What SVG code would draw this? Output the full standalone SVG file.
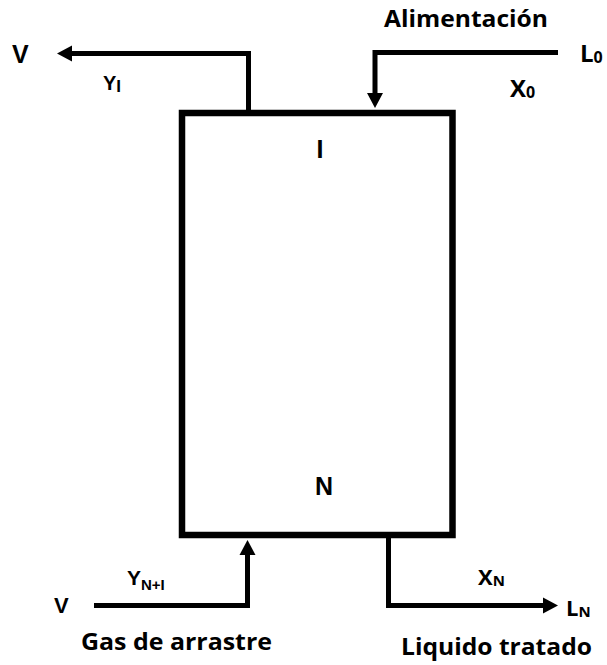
<svg xmlns="http://www.w3.org/2000/svg" width="607" height="665" viewBox="0 0 607 665">
  <defs>
    <style>
      .conn { fill: none; stroke: #000; stroke-width: 5; stroke-linejoin: miter; }
      .box { fill: #fff; stroke: #000; stroke-width: 6.5; }
      .a { font-family: "Liberation Sans", Arial, sans-serif; font-weight: bold; fill: #000; }
      .c { font-family: "Open Sans", "Liberation Sans", sans-serif; font-weight: bold; fill: #000; }
    </style>
    <marker id="arr" markerUnits="userSpaceOnUse" markerWidth="17" markerHeight="17" refX="1" refY="8" orient="auto" overflow="visible">
      <path d="M0,0 L15,8 L0,16 Z" fill="#000"/>
    </marker>
  </defs>
  <rect width="607" height="665" fill="#fff"/>

  <g id="connectors">
    <polyline class="conn" points="248.5,113 248.5,53.5 71,53.5" marker-end="url(#arr)"/>
    <polyline class="conn" points="558,52.5 375,52.5 375,94" marker-end="url(#arr)"/>
    <polyline class="conn" points="94,605.5 247.5,605.5 247.5,554" marker-end="url(#arr)"/>
    <polyline class="conn" points="388.5,535 388.5,605.5 544,605.5" marker-end="url(#arr)"/>
  </g>

  <g id="column">
    <rect class="box" x="182" y="113" width="270.5" height="422"/>
    <text class="a" x="316.5" y="158" font-size="25">I</text>
    <text class="a" x="315" y="495" font-size="25">N</text>
  </g>

  <g id="top-left-outlet">
    <text class="a" x="12" y="63" font-size="25">V</text>
    <text class="a" x="103" y="90" font-size="20">Y<tspan font-size="17" dy="2">I</tspan></text>
  </g>

  <g id="feed">
    <text class="c" x="384" y="27" font-size="24" textLength="164" lengthAdjust="spacingAndGlyphs">Alimentación</text>
    <text class="c" x="580" y="62" font-size="24">L<tspan font-size="16" dy="1">0</tspan></text>
    <text class="c" x="510" y="97" font-size="24">X<tspan font-size="16" dy="1">0</tspan></text>
  </g>

  <g id="gas-inlet">
    <text class="a" x="54" y="613" font-size="22">V</text>
    <text class="a" x="127" y="585" font-size="21">Y<tspan font-size="15" dy="5">N+I</tspan></text>
    <text class="c" x="81" y="650" font-size="24" textLength="191" lengthAdjust="spacingAndGlyphs">Gas de arrastre</text>
  </g>

  <g id="liquid-outlet">
    <text class="c" x="478" y="585" font-size="22">X<tspan font-size="15" dy="1">N</tspan></text>
    <text class="c" x="566" y="616" font-size="22">L<tspan font-size="15" dy="1">N</tspan></text>
    <text class="c" x="401" y="655" font-size="24" textLength="191" lengthAdjust="spacingAndGlyphs">Liquido tratado</text>
  </g>
</svg>
